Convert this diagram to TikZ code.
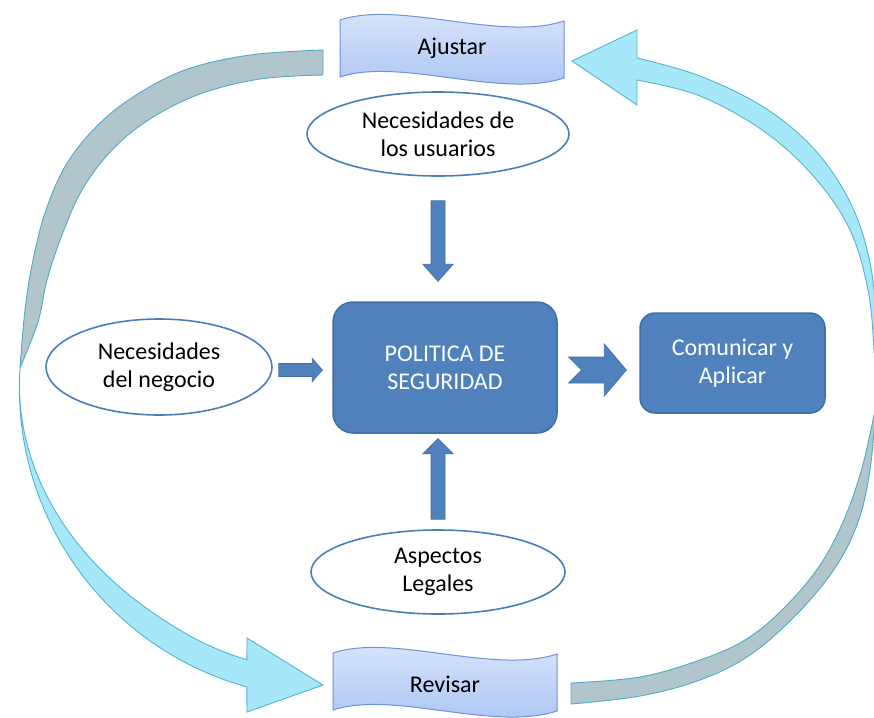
\documentclass[tikz,border=0pt]{standalone}
\usepackage{fontspec}
\setmainfont{Carlito}
\usetikzlibrary{calc,shapes.geometric}

\definecolor{ringgray}{HTML}{B0C6CC}
\definecolor{ringgrayline}{HTML}{4BACC6}
\definecolor{ringcyan}{HTML}{A6E8FA}
\definecolor{ringcyanline}{HTML}{54B4CF}
\definecolor{bannertop}{HTML}{DDE8FB}
\definecolor{bannerbottom}{HTML}{A7C2F4}
\definecolor{bannerline}{HTML}{6A95D6}
\definecolor{ellipseline}{HTML}{4A7EBB}
\definecolor{boxblue}{HTML}{4F81BD}
\definecolor{boxline}{HTML}{3F6FA6}

% block arrow from #1 to #2: shaft half width #3, head half width #4, head length #5
\newcommand{\blockarr}[5]{%
  \coordinate (hb) at ($(#2)!#5!(#1)$);
  \filldraw[flowarrow] ($(#1)!#3!90:(#2)$) -- ($(hb)!#3!90:(#2)$) -- ($(hb)!#4!90:(#2)$) -- (#2)
    -- ($(hb)!#4!-90:(#2)$) -- ($(hb)!#3!-90:(#2)$) -- ($(#1)!#3!-90:(#2)$) -- cycle;}

\begin{document}
\begin{tikzpicture}[x=1pt,y=-1pt,
  declare function={clampu(\t)=min(1,max(0,\t));
    smoothu(\t)=clampu(\t)*clampu(\t)*(3-2*clampu(\t));
    rcyin(\t)=285.5+23*(1-smoothu((\t-180)/60));
    rcyout(\t)=308.5+3.2*(\t-176.7)/78.2;},
  every node/.style={font=\fontsize{24}{28}\selectfont, align=center, inner sep=0pt},
  need/.style={ellipse, draw=ellipseline, line width=1.6pt, fill=white},
  keybox/.style={rectangle, fill=boxblue, draw=boxline, line width=1.5pt, text=white},
  flowarrow/.style={fill=boxblue, draw=boxline, line width=0.8pt, line join=miter},
  backband/.style={fill=ringgray, draw=ringgrayline, line width=0.9pt, line join=round},
  frontband/.style={fill=ringcyan, draw=ringcyanline, line width=0.9pt, line join=miter},
  bannershape/.style={top color=bannertop, bottom color=bannerbottom, draw=bannerline, line width=1pt},
  banner/.pic={\path[bannershape] (-112,-28.5) .. controls (-52,-48.5) and (48,-6.5) .. (112,-27.5)
      -- (112,29.5) .. controls (48,50.5) and (-52,8.5) .. (-112,28.5) -- cycle;}
]
\useasboundingbox (0,0) rectangle (874,717);

% left loop: back side from the top, front side down to the arrow head
\filldraw[backband]
  plot[smooth, tension=0.6] coordinates {(323,50) (250,55) (185,70) (133,97) (95,128) (66,165) (46,210) (33,260) (25,310) (20,368)}
  -- plot[smooth, tension=0.6] coordinates {(20,368) (38,322) (47,280) (62,235) (82,190) (112,150) (150,119) (200,94) (260,79) (323,75)}
  -- cycle;
\filldraw[frontband]
  plot[domain=176.7:254.9, samples=80] ({328+rcyout(\x)*cos(\x)},{386-rcyout(\x)*sin(\x)})
  -- (247,712) -- (323,685) -- (247,638)
  -- plot[domain=253.5:176.7, samples=80] ({328+rcyin(\x)*cos(\x)},{386-rcyin(\x)*sin(\x)})
  -- cycle;

% right loop: back side from the bottom, front side up to the arrow head
\filldraw[backband]
  plot[smooth, tension=0.6] coordinates {(571,704) (640,696) (700,680) (750,655) (797,614) (835,568) (858,522) (870,470) (876,405)}
  -- plot[smooth, tension=0.6] coordinates {(876,405) (862,468) (843,522) (818,568) (782,610) (745,640) (700,660) (640,677) (571,683)}
  -- cycle;
\filldraw[frontband]
  plot[smooth, tension=0.6] coordinates {(876,405) (876,320) (869,258) (850,202) (815,150) (765,108) (700,76) (637,58)}
  -- (637,30) -- (572,61) -- (637,105)
  -- plot[smooth, tension=0.6] coordinates {(637,80) (700,96) (765,132) (815,178) (850,230) (868,290) (874,350) (876,405)}
  -- cycle;

% banners
\pic at (452,48.5) {banner};
\node (ajustar) at (452,48) {Ajustar};
\pic at (445,681.5) {banner};
\node (revisar) at (445,684) {Revisar};

% inputs
\node[need, minimum width=262pt, minimum height=84pt] (usuarios) at (438,134) {Necesidades de\\los usuarios};
\node[need, minimum width=226pt, minimum height=96pt] (negocio) at (159,367) {Necesidades\\del negocio};
\node[need, minimum width=254pt, minimum height=84pt] (legales) at (438,572) {Aspectos\\Legales};

% central policy and output
\node[keybox, rounded corners=20pt, minimum width=224pt, minimum height=131pt] (politica) at (445,367.5) {POLITICA DE\\SEGURIDAD};
\node[keybox, rounded corners=15pt, minimum width=185pt, minimum height=100pt] (comunicar) at (732.5,363) {Comunicar y\\Aplicar};

% flow arrows
\coordinate (ua) at ($(usuarios.south)+(0,24)$);
\coordinate (ub) at ($(ua |- politica.north)+(0,-20)$);
\blockarr{ua}{ub}{7pt}{15pt}{17pt}

\coordinate (la) at ($(legales.north)+(0,-10)$);
\coordinate (lb) at ($(la |- politica.south)+(0,5)$);
\blockarr{la}{lb}{7pt}{15pt}{15pt}

\coordinate (na) at ($(negocio.east)+(6,3)$);
\coordinate (nb) at ($(na -| politica.west)+(-10,0)$);
\blockarr{na}{nb}{6.5pt}{11.5pt}{10pt}

% notched arrow towards the output
\coordinate (ca) at ($(politica.east)+(11,2.5)$);
\coordinate (cb) at ($(ca -| comunicar.west)+(-13,0)$);
\coordinate (ch) at ($(cb)!22pt!(ca)$);
\filldraw[flowarrow] ($(ca)!13pt!90:(cb)$) -- ($(ch)!13pt!90:(cb)$) -- ($(ch)!26pt!90:(cb)$) -- (cb)
  -- ($(ch)!26pt!-90:(cb)$) -- ($(ch)!13pt!-90:(cb)$) -- ($(ca)!13pt!-90:(cb)$) -- ($(ca)!13pt!(cb)$) -- cycle;
\end{tikzpicture}
\end{document}
